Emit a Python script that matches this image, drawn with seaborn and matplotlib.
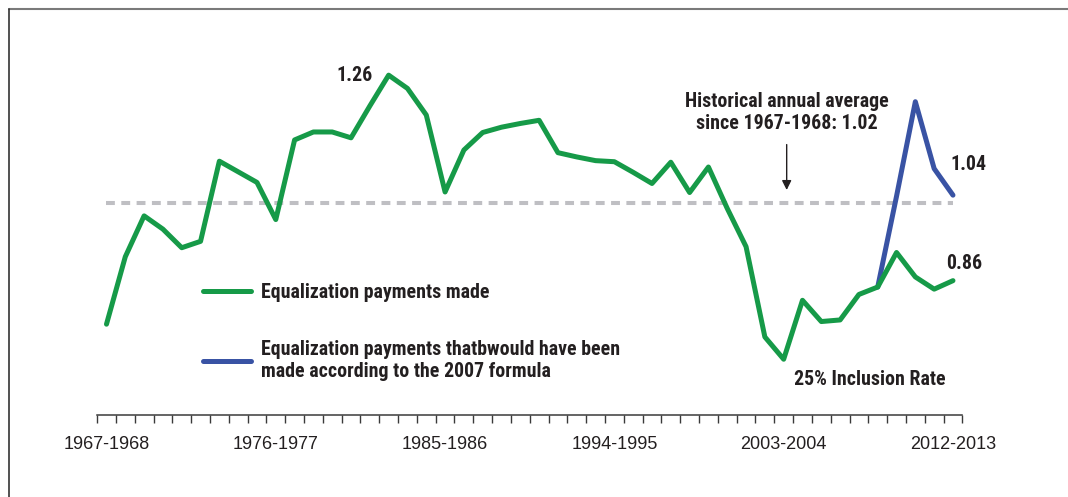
"""
Equalization payments as a share of the historical average, 1967-1968 to 2012-2013.
"""

import numpy as np
import pandas as pd
import matplotlib.pyplot as plt
from matplotlib.lines import Line2D
from matplotlib import font_manager
import seaborn as sns

# Data
years = list(range(1967, 2013))
seasons = [f"{y}-{y + 1}" for y in years]

payments_made = [0.791, 0.918, 0.995, 0.970, 0.935, 0.947, 1.098, 1.078, 1.058, 0.988,
                 1.138, 1.153, 1.153, 1.142, 1.202, 1.260, 1.235, 1.185, 1.040, 1.119,
                 1.152, 1.162, 1.169, 1.175, 1.114, 1.106, 1.099, 1.097, 1.077, 1.056,
                 1.096, 1.039, 1.087, 1.009, 0.937, 0.767, 0.725, 0.836, 0.796, 0.799,
                 0.847, 0.861, 0.926, 0.880, 0.857, 0.873]

formula_seasons = ["2008-2009", "2009-2010", "2010-2011", "2011-2012", "2012-2013"]
formula_2007 = [0.861, 1.032, 1.210, 1.084, 1.034]

historical_avg = 1.02
label_seasons = ["1967-1968", "1976-1977", "1985-1986", "1994-1995", "2003-2004", "2012-2013"]

GREEN = '#169a48'
BLUE = '#3953a4'
GREY = '#bfbfc3'
INK = '#231f20'

sns.set_style('white')
plt.rcParams['font.family'] = ['Liberation Sans', 'DejaVu Sans']

# a condensed bold face if one is installed, otherwise a smaller Arial-like bold
installed = {f.name for f in font_manager.fontManager.ttflist}
narrow = [n for n in ['Liberation Sans Narrow', 'DejaVu Sans Condensed', 'Roboto Condensed']
          if n in installed]
if narrow:
    bold = dict(family=[narrow[0], 'DejaVu Sans'], weight='bold', size=14.3)
else:
    bold = dict(family=['Liberation Sans', 'DejaVu Sans'], weight='bold', size=12.4)

df_made = pd.DataFrame({'idx': range(len(seasons)), 'value': payments_made})
df_formula = pd.DataFrame({'idx': [seasons.index(s) for s in formula_seasons],
                           'value': formula_2007})

fig = plt.figure(figsize=(10.68, 4.97), dpi=100)
ax = fig.add_axes([0.0909, 0.165, 0.8102, 0.7746])

# average line
ax.hlines(historical_avg, 0, len(seasons) - 1, color=GREY, lw=2.9,
          linestyles=(0, (2.2, 1.6)), zorder=1)

sns.lineplot(data=df_formula, x='idx', y='value', ax=ax, color=BLUE, lw=3.6,
             label='Equalization payments thatbwould have been\nmade according to the 2007 formula',
             zorder=2)
sns.lineplot(data=df_made, x='idx', y='value', ax=ax, color=GREEN, lw=3.6,
             label='Equalization payments made', zorder=3)

ax.set_xlim(-0.5, len(seasons) - 0.5)
ax.set_ylim(0.62, 1.345)
ax.set_xlabel('')
ax.set_ylabel('')
ax.set_yticks([])

# tick marks between categories, labels every 9 seasons
ax.set_xticks(np.arange(-0.5, len(seasons), 1))
ax.set_xticklabels([])
ax.set_xticks([seasons.index(s) for s in label_seasons], minor=True)
ax.set_xticklabels(label_seasons, minor=True)
ax.tick_params(axis='x', which='major', length=5.5, width=1, direction='out',
               color='#3a3a3a', bottom=True)
ax.tick_params(axis='x', which='minor', length=0, pad=15, labelsize=13, labelcolor=INK)

for side in ['left', 'right', 'top']:
    ax.spines[side].set_visible(False)
ax.spines['bottom'].set_color('#3a3a3a')
ax.spines['bottom'].set_linewidth(1.1)

# annotations
peak = int(np.argmax(payments_made))
ax.text(peak - 0.85, payments_made[peak], '1.26', ha='right', va='center', color=INK, **bold)
ax.text(44.84, 1.092, '1.04', ha='left', va='center', color=INK, **bold)
ax.text(44.63, 0.905, '0.86', ha='left', va='center', color=INK, **bold)
ax.text(36.53, 0.687, '25% Inclusion Rate', ha='left', va='center', color=INK, **bold)
ax.text(36.16, 1.189, 'Historical annual average\nsince 1967-1968: 1.02', ha='center',
        va='center', color=INK, **bold)
ax.annotate('', xy=(36.16, 1.0385), xytext=(36.16, 1.1345),
            arrowprops=dict(arrowstyle='-|>', color=INK, lw=1, mutation_scale=14))

# legend, green entry first
handles, labels = ax.get_legend_handles_labels()
ax.legend(handles[::-1], labels[::-1], loc='upper left', bbox_to_anchor=(0.1224, 0.342),
          frameon=False, borderpad=0, borderaxespad=0, handlelength=2.4,
          handletextpad=0.5, labelspacing=1.9, prop=bold, labelcolor=INK)

# frame around the figure (top and left only)
fig.add_artist(Line2D([9 / 1068, 1], [1 - 9 / 497] * 2, color='#7a7a7a', lw=1.5))
fig.add_artist(Line2D([9 / 1068] * 2, [0, 1 - 9 / 497], color='#333333', lw=1.2))

fig.savefig('out.png', dpi=100)
